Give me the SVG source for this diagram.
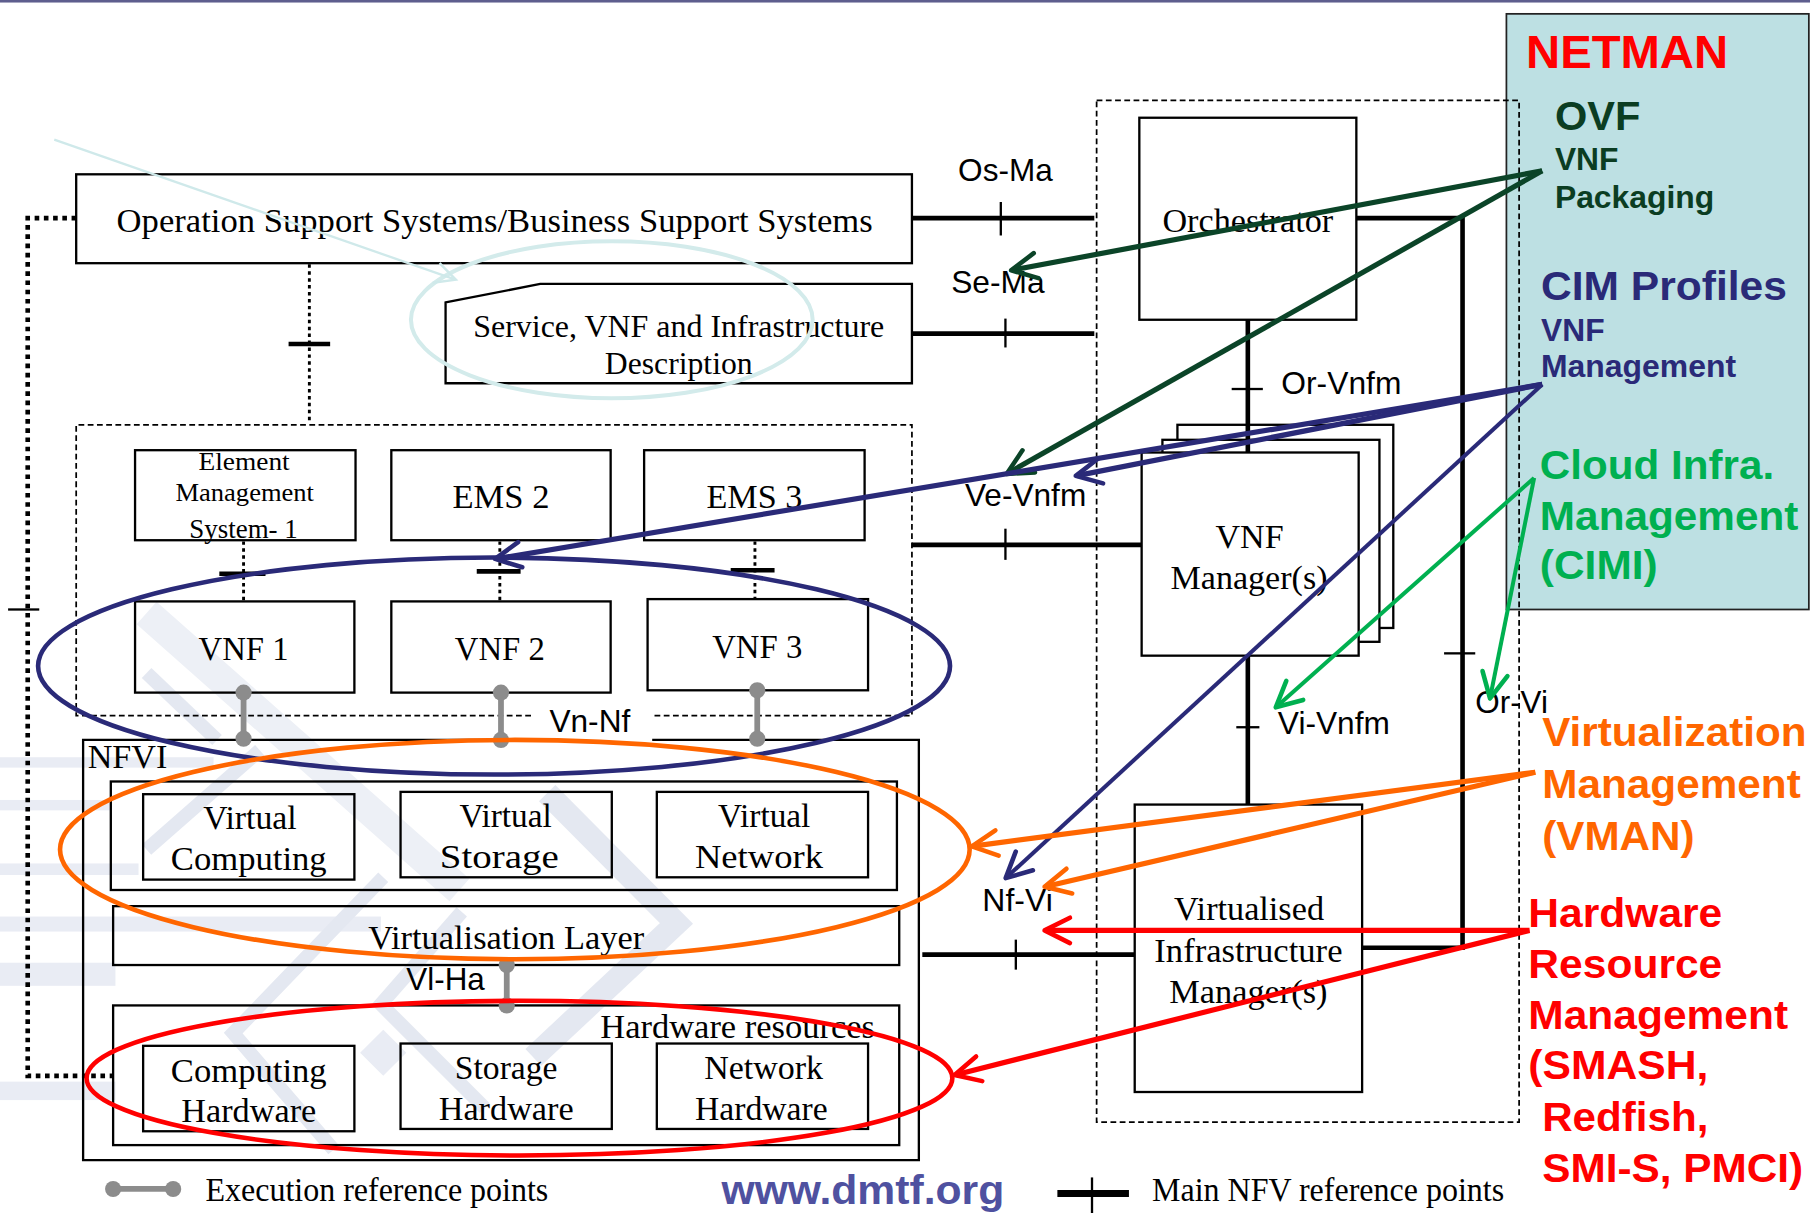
<svg xmlns="http://www.w3.org/2000/svg" width="1810" height="1213" viewBox="0 0 1810 1213">
<defs>
<style>
.bx{fill:none;stroke:#000;stroke-width:2}
.wb{fill:#fff;stroke:#000;stroke-width:2}
.tm{font-family:"Liberation Serif","Times New Roman",serif;font-size:29px;fill:#000}
.ar{font-family:"Liberation Sans",Arial,sans-serif;font-size:27px;fill:#000}
.bd{font-family:"Liberation Sans",Arial,sans-serif;font-weight:bold;font-size:35px}
.ref{stroke:#000;stroke-width:4;fill:none}
.tk{stroke:#000;stroke-width:2}
.tkb{stroke:#000;stroke-width:4}
.dot{stroke:#000;stroke-width:2.5;stroke-dasharray:3 3;fill:none}
.dotk{stroke:#000;stroke-width:4;stroke-dasharray:4 4;fill:none}
.dash{stroke:#000;stroke-width:1.5;stroke-dasharray:5 3;fill:none}
.ex{stroke:#8c8c8c;stroke-width:5}
.exd{fill:#8c8c8c}
.wm{stroke:#edf0f6;fill:none;stroke-width:16}
.wm2{stroke:#e4e8f1;fill:none;stroke-width:12}
.wmf{fill:#e9ecf4}
.ar-dg{stroke:#0b4428;stroke-width:4.5;fill:none}
.ar-nv{stroke:#2a2a78;stroke-width:4.5;fill:none}
.ar-gr{stroke:#00b050;stroke-width:3.5;fill:none}
.ar-or{stroke:#ff6600;stroke-width:4.5;fill:none}
.ar-rd{stroke:#ff0000;stroke-width:4.5;fill:none}
</style>
<marker id="mdg" viewBox="0 0 10 10" refX="9.5" refY="5" markerUnits="userSpaceOnUse" markerWidth="22" markerHeight="22" orient="auto" style="overflow:visible"><path d="M0,0 L10,5 L0,10" fill="none" stroke="#0b4428" stroke-width="1.8" stroke-linecap="round" stroke-linejoin="round"/></marker>
<marker id="mnv" viewBox="0 0 10 10" refX="9.5" refY="5" markerUnits="userSpaceOnUse" markerWidth="22" markerHeight="22" orient="auto" style="overflow:visible"><path d="M0,0 L10,5 L0,10" fill="none" stroke="#2a2a78" stroke-width="1.8" stroke-linecap="round" stroke-linejoin="round"/></marker>
<marker id="mgr" viewBox="0 0 10 10" refX="9.5" refY="5" markerUnits="userSpaceOnUse" markerWidth="22" markerHeight="22" orient="auto" style="overflow:visible"><path d="M0,0 L10,5 L0,10" fill="none" stroke="#00b050" stroke-width="1.8" stroke-linecap="round" stroke-linejoin="round"/></marker>
<marker id="mor" viewBox="0 0 10 10" refX="9.5" refY="5" markerUnits="userSpaceOnUse" markerWidth="22" markerHeight="22" orient="auto" style="overflow:visible"><path d="M0,0 L10,5 L0,10" fill="none" stroke="#ff6600" stroke-width="1.8" stroke-linecap="round" stroke-linejoin="round"/></marker>
<marker id="mrd" viewBox="0 0 10 10" refX="9.5" refY="5" markerUnits="userSpaceOnUse" markerWidth="22" markerHeight="22" orient="auto" style="overflow:visible"><path d="M0,0 L10,5 L0,10" fill="none" stroke="#ff0000" stroke-width="1.8" stroke-linecap="round" stroke-linejoin="round"/></marker>
<marker id="mcy" viewBox="0 0 10 10" refX="9.5" refY="5" markerUnits="userSpaceOnUse" markerWidth="18" markerHeight="18" orient="auto" style="overflow:visible"><path d="M0,0 L10,5 L0,10" fill="none" stroke="#cfe9ea" stroke-width="1.2"/></marker>
</defs>
<rect x="0" y="0" width="1810" height="1213" fill="#fff"/>
<g transform="scale(1.15434)">
<rect x="0" y="0" width="1568" height="2.2" fill="#5e5e8e"/>

<g id="watermark">
<rect class="wmf" x="0" y="656" width="185" height="9"/>
<rect class="wmf" x="0" y="693" width="95" height="9"/>
<rect class="wmf" x="0" y="748" width="120" height="10"/>
<rect class="wmf" x="0" y="794" width="330" height="13"/>
<rect class="wmf" x="0" y="834" width="100" height="20"/>
<rect class="wmf" x="0" y="937" width="100" height="16"/>
<polyline class="wm" style="stroke-width:26" points="127,531 398,771"/>
<polyline class="wm2" points="127,583 188,641"/>
<polyline class="wm2" points="127,736 225,650"/>
<polyline class="wm2" style="stroke-width:20" points="474,687 586,800 462,916"/>
<polyline class="wm2" points="332,760 202,895 289,996"/>
<polyline class="wm2" points="400,790 330,870 420,960"/>
<polygon class="wmf" points="332,892 352,912 332,932 312,912"/>
</g>

<g id="netman">
<rect x="1305" y="12" width="262" height="516" fill="#bde0e3" stroke="#222" stroke-width="1.5"/>
<text class="bd" x="1322" y="59" style="font-size:40px;fill:#ff0000" textLength="175" lengthAdjust="spacingAndGlyphs">NETMAN</text>
<text class="bd" x="1347" y="113" style="font-size:36px;fill:#0b3d22" textLength="74" lengthAdjust="spacingAndGlyphs">OVF</text>
<text class="bd" x="1347" y="147" style="font-size:27px;fill:#0b3d22" textLength="55" lengthAdjust="spacingAndGlyphs">VNF</text>
<text class="bd" x="1347" y="180" style="font-size:27px;fill:#0b3d22" textLength="138" lengthAdjust="spacingAndGlyphs">Packaging</text>
<text class="bd" x="1335" y="260" style="font-size:35px;fill:#2a2a78" textLength="213" lengthAdjust="spacingAndGlyphs">CIM Profiles</text>
<text class="bd" x="1335" y="295" style="font-size:27px;fill:#2a2a78" textLength="55" lengthAdjust="spacingAndGlyphs">VNF</text>
<text class="bd" x="1335" y="327" style="font-size:27px;fill:#2a2a78" textLength="169" lengthAdjust="spacingAndGlyphs">Management</text>
<text class="bd" x="1334" y="415" style="fill:#00b050" textLength="203" lengthAdjust="spacingAndGlyphs">Cloud Infra.</text>
<text class="bd" x="1334" y="459" style="fill:#00b050" textLength="224" lengthAdjust="spacingAndGlyphs">Management</text>
<text class="bd" x="1334" y="502" style="fill:#00b050" textLength="102" lengthAdjust="spacingAndGlyphs">(CIMI)</text>
</g>

<g id="vman-label">
<text class="bd" x="1336" y="646" style="fill:#ff6600" textLength="229" lengthAdjust="spacingAndGlyphs">Virtualization</text>
<text class="bd" x="1336" y="691" style="fill:#ff6600" textLength="224" lengthAdjust="spacingAndGlyphs">Management</text>
<text class="bd" x="1336" y="736" style="fill:#ff6600" textLength="132" lengthAdjust="spacingAndGlyphs">(VMAN)</text>
</g>
<g id="hw-label">
<text class="bd" x="1324" y="803" style="fill:#ff0000" textLength="168" lengthAdjust="spacingAndGlyphs">Hardware</text>
<text class="bd" x="1324" y="847" style="fill:#ff0000" textLength="168" lengthAdjust="spacingAndGlyphs">Resource</text>
<text class="bd" x="1324" y="891" style="fill:#ff0000" textLength="225" lengthAdjust="spacingAndGlyphs">Management</text>
<text class="bd" x="1324" y="935" style="fill:#ff0000" textLength="156" lengthAdjust="spacingAndGlyphs">(SMASH,</text>
<text class="bd" x="1336" y="980" style="fill:#ff0000" textLength="144" lengthAdjust="spacingAndGlyphs">Redfish,</text>
<text class="bd" x="1336" y="1024" style="fill:#ff0000" textLength="226" lengthAdjust="spacingAndGlyphs">SMI-S, PMCI)</text>
</g>

<g id="mano">
<rect class="dash" x="950" y="87" width="366" height="885"/>
</g>

<g id="oss">
<rect class="bx" x="66" y="151" width="724" height="77"/>
<text class="tm" x="101" y="201" textLength="655" lengthAdjust="spacingAndGlyphs">Operation Support Systems/Business Support Systems</text>
</g>
<g id="service-desc">
<polygon class="bx" points="386,262 468,246 790,246 790,332 386,332"/>
<text class="tm" x="410" y="292" style="font-size:27px" textLength="356" lengthAdjust="spacingAndGlyphs">Service, VNF and Infrastructure</text>
<text class="tm" x="524" y="324" style="font-size:27px" textLength="128" lengthAdjust="spacingAndGlyphs">Description</text>
</g>

<g id="vnf-region">
<path class="dash" d="M460,620 L66,620 L66,368 L790,368 L790,620 L564,620"/>
</g>
<g id="ems1">
<rect class="bx" x="117" y="390" width="191" height="78"/>
<text class="tm" x="172" y="407" style="font-size:22px" textLength="79" lengthAdjust="spacingAndGlyphs">Element</text>
<text class="tm" x="152" y="434" style="font-size:22px" textLength="120" lengthAdjust="spacingAndGlyphs">Management</text>
<text class="tm" x="164" y="466" style="font-size:23px" textLength="94" lengthAdjust="spacingAndGlyphs">System- 1</text>
</g>
<g id="ems2">
<rect class="bx" x="339" y="390" width="190" height="78"/>
<text class="tm" x="392" y="440" textLength="84" lengthAdjust="spacingAndGlyphs">EMS 2</text>
</g>
<g id="ems3">
<rect class="bx" x="558" y="390" width="191" height="78"/>
<text class="tm" x="612" y="440" textLength="83" lengthAdjust="spacingAndGlyphs">EMS 3</text>
</g>
<g id="vnf1">
<rect class="bx" x="117" y="521" width="190" height="79"/>
<text class="tm" x="172" y="572" textLength="78" lengthAdjust="spacingAndGlyphs">VNF 1</text>
</g>
<g id="vnf2">
<rect class="bx" x="339" y="521" width="190" height="79"/>
<text class="tm" x="394" y="572" textLength="78" lengthAdjust="spacingAndGlyphs">VNF 2</text>
</g>
<g id="vnf3">
<rect class="bx" x="561" y="519" width="191" height="79"/>
<text class="tm" x="617" y="570" textLength="78" lengthAdjust="spacingAndGlyphs">VNF 3</text>
</g>

<g id="nfvi">
<path class="bx" d="M456,641 L72,641 L72,1005 L796,1005 L796,641 L565,641"/>
<text class="tm" x="76" y="665" textLength="69" lengthAdjust="spacingAndGlyphs">NFVI</text>
<rect class="bx" x="96" y="677" width="681" height="94"/>
<rect class="bx" x="98" y="785" width="681" height="51"/>
<text class="tm" x="319" y="822" textLength="239" lengthAdjust="spacingAndGlyphs">Virtualisation Layer</text>
<rect class="bx" x="98" y="871" width="681" height="121"/>
<text class="tm" x="520" y="899" textLength="238" lengthAdjust="spacingAndGlyphs">Hardware resources</text>
</g>
<g id="virtual-computing">
<rect class="bx" x="124" y="688" width="183" height="74"/>
<text class="tm" x="176" y="718" textLength="81" lengthAdjust="spacingAndGlyphs">Virtual</text>
<text class="tm" x="148" y="754" textLength="135" lengthAdjust="spacingAndGlyphs">Computing</text>
</g>
<g id="virtual-storage">
<rect class="bx" x="347" y="686" width="183" height="74"/>
<text class="tm" x="398" y="716" textLength="80" lengthAdjust="spacingAndGlyphs">Virtual</text>
<text class="tm" x="381" y="752" textLength="103" lengthAdjust="spacingAndGlyphs">Storage</text>
</g>
<g id="virtual-network">
<rect class="bx" x="569" y="686" width="183" height="74"/>
<text class="tm" x="622" y="716" textLength="80" lengthAdjust="spacingAndGlyphs">Virtual</text>
<text class="tm" x="602" y="752" textLength="111" lengthAdjust="spacingAndGlyphs">Network</text>
</g>
<g id="computing-hw">
<rect class="bx" x="124" y="906" width="183" height="74"/>
<text class="tm" x="148" y="937" textLength="135" lengthAdjust="spacingAndGlyphs">Computing</text>
<text class="tm" x="157" y="972" textLength="117" lengthAdjust="spacingAndGlyphs">Hardware</text>
</g>
<g id="storage-hw">
<rect class="bx" x="347" y="904" width="183" height="74"/>
<text class="tm" x="394" y="935" textLength="89" lengthAdjust="spacingAndGlyphs">Storage</text>
<text class="tm" x="380" y="970" textLength="117" lengthAdjust="spacingAndGlyphs">Hardware</text>
</g>
<g id="network-hw">
<rect class="bx" x="569" y="904" width="183" height="74"/>
<text class="tm" x="610" y="935" textLength="103" lengthAdjust="spacingAndGlyphs">Network</text>
<text class="tm" x="602" y="970" textLength="115" lengthAdjust="spacingAndGlyphs">Hardware</text>
</g>

<g id="orchestrator">
<rect class="bx" x="987" y="102" width="188" height="175"/>
<text class="tm" x="1007" y="201" textLength="148" lengthAdjust="spacingAndGlyphs">Orchestrator</text>
</g>
<g id="vnf-manager">
<rect class="wb" x="1020" y="368" width="187" height="176"/>
<rect class="wb" x="1007" y="381" width="188" height="175"/>
<rect class="wb" x="989" y="392" width="188" height="176"/>
<text class="tm" x="1053" y="475" textLength="59" lengthAdjust="spacingAndGlyphs">VNF</text>
<text class="tm" x="1014" y="510" textLength="136" lengthAdjust="spacingAndGlyphs">Manager(s)</text>
</g>
<g id="vim">
<rect class="bx" x="983" y="697" width="197" height="249"/>
<text class="tm" x="1017" y="797" textLength="130" lengthAdjust="spacingAndGlyphs">Virtualised</text>
<text class="tm" x="1000" y="833" textLength="163" lengthAdjust="spacingAndGlyphs">Infrastructure</text>
<text class="tm" x="1013" y="869" textLength="137" lengthAdjust="spacingAndGlyphs">Manager(s)</text>
</g>

<g id="connectors">
<polyline class="dotk" points="66,189 24,189 24,932 97,932"/>
<line class="tk" x1="7" y1="528" x2="34" y2="528"/>
<line class="dot" x1="268" y1="229" x2="268" y2="367"/>
<line class="tkb" x1="250" y1="298" x2="286" y2="298"/>
<line class="dot" x1="211" y1="469" x2="211" y2="520"/>
<line class="tkb" x1="190" y1="497" x2="230" y2="497"/>
<line class="dot" x1="433" y1="469" x2="433" y2="520"/>
<line class="tkb" x1="413" y1="495" x2="451" y2="495"/>
<line class="dot" x1="654" y1="469" x2="654" y2="518"/>
<line class="tkb" x1="633" y1="494" x2="671" y2="494"/>
<line class="ref" x1="790" y1="189" x2="948" y2="189"/>
<line class="tk" x1="867" y1="175" x2="867" y2="204"/>
<line class="ref" x1="790" y1="289" x2="948" y2="289"/>
<line class="tk" x1="871" y1="276" x2="871" y2="301"/>
<line class="ref" x1="1081" y1="277" x2="1081" y2="392"/>
<line class="tk" x1="1067" y1="337" x2="1094" y2="337"/>
<line class="ref" x1="790" y1="472" x2="989" y2="472"/>
<line class="tk" x1="871" y1="458" x2="871" y2="485"/>
<line class="ref" x1="1081" y1="568" x2="1081" y2="697"/>
<line class="tk" x1="1071" y1="630" x2="1091" y2="630"/>
<polyline class="ref" points="1175,189 1267,189 1267,821 1180,821"/>
<line class="tk" x1="1251" y1="566" x2="1278" y2="566"/>
<line class="ref" x1="799" y1="827" x2="983" y2="827"/>
<line class="tk" x1="880" y1="814" x2="880" y2="840"/>
<line class="ex" x1="211" y1="600" x2="211" y2="640"/>
<circle class="exd" cx="211" cy="600" r="7"/><circle class="exd" cx="211" cy="640" r="7"/>
<line class="ex" x1="434" y1="600" x2="434" y2="641"/>
<circle class="exd" cx="434" cy="600" r="7"/><circle class="exd" cx="434" cy="641" r="7"/>
<line class="ex" x1="656" y1="598" x2="656" y2="640"/>
<circle class="exd" cx="656" cy="598" r="7"/><circle class="exd" cx="656" cy="640" r="7"/>
<line class="ex" x1="439" y1="836" x2="439" y2="871"/>
<circle class="exd" cx="439" cy="836" r="7"/><circle class="exd" cx="439" cy="871" r="7"/>
</g>

<g id="ref-labels">
<text class="ar" x="830" y="157" textLength="82" lengthAdjust="spacingAndGlyphs">Os-Ma</text>
<text class="ar" x="824" y="254" textLength="81" lengthAdjust="spacingAndGlyphs">Se-Ma</text>
<text class="ar" x="1110" y="341" textLength="104" lengthAdjust="spacingAndGlyphs">Or-Vnfm</text>
<text class="ar" x="836" y="438" textLength="105" lengthAdjust="spacingAndGlyphs">Ve-Vnfm</text>
<text class="ar" x="476" y="634" textLength="70" lengthAdjust="spacingAndGlyphs">Vn-Nf</text>
<text class="ar" x="1107" y="636" textLength="97" lengthAdjust="spacingAndGlyphs">Vi-Vnfm</text>
<text class="ar" x="1278" y="618" textLength="63" lengthAdjust="spacingAndGlyphs">Or-Vi</text>
<text class="ar" x="851" y="789" textLength="61" lengthAdjust="spacingAndGlyphs">Nf-Vi</text>
<text class="ar" x="352" y="858" textLength="68" lengthAdjust="spacingAndGlyphs">Vl-Ha</text>
</g>

<g id="highlights">
<ellipse cx="530" cy="277" rx="174" ry="68" fill="none" stroke="#d3ebeb" stroke-width="3.5"/>
<line x1="47" y1="121" x2="394" y2="242" stroke="#cfe9ea" stroke-width="2" marker-end="url(#mcy)"/>
<ellipse cx="428" cy="577" rx="395" ry="94" fill="none" stroke="#2a2a78" stroke-width="4"/>
<ellipse cx="446" cy="736" rx="394" ry="95" fill="none" stroke="#ff6600" stroke-width="4"/>
<ellipse cx="450" cy="934" rx="375" ry="67" fill="none" stroke="#ff0000" stroke-width="4"/>
</g>

<g id="mapping-arrows">
<line class="ar-dg" x1="1336" y1="148" x2="877" y2="234" marker-end="url(#mdg)"/>
<line class="ar-dg" x1="1336" y1="148" x2="873" y2="410" marker-end="url(#mdg)"/>
<line class="ar-nv" x1="1336" y1="333" x2="430" y2="484" marker-end="url(#mnv)"/>
<line class="ar-nv" x1="1336" y1="333" x2="933" y2="412" marker-end="url(#mnv)"/>
<line class="ar-nv" style="stroke-width:3.5" x1="1336" y1="333" x2="872" y2="760" marker-end="url(#mnv)"/>
<line class="ar-gr" x1="1329" y1="414" x2="1106" y2="612" marker-end="url(#mgr)"/>
<line class="ar-gr" x1="1329" y1="414" x2="1291" y2="604" marker-end="url(#mgr)"/>
<line class="ar-or" x1="1330" y1="669" x2="843" y2="733" marker-end="url(#mor)"/>
<line class="ar-or" x1="1330" y1="669" x2="906" y2="768" marker-end="url(#mor)"/>
<line class="ar-rd" x1="1325" y1="806" x2="906" y2="806" marker-end="url(#mrd)"/>
<line class="ar-rd" x1="1325" y1="806" x2="828" y2="931" marker-end="url(#mrd)"/>
</g>

<g id="legend">
<line class="ex" x1="98" y1="1030" x2="150" y2="1030"/>
<circle class="exd" cx="98" cy="1030" r="7"/><circle class="exd" cx="150" cy="1030" r="7"/>
<text class="tm" x="178" y="1040" textLength="297" lengthAdjust="spacingAndGlyphs">Execution reference points</text>
<text x="625" y="1043" style="font-family:'Liberation Sans',Arial,sans-serif;font-weight:bold;font-size:35px;fill:#4f51a0" textLength="245" lengthAdjust="spacingAndGlyphs">www.dmtf.org</text>
<line x1="916" y1="1034" x2="978" y2="1034" stroke="#000" stroke-width="6"/>
<line class="tk" x1="946" y1="1020" x2="946" y2="1052"/>
<text class="tm" x="998" y="1040" textLength="305" lengthAdjust="spacingAndGlyphs">Main NFV reference points</text>
</g>
</g>
</svg>
